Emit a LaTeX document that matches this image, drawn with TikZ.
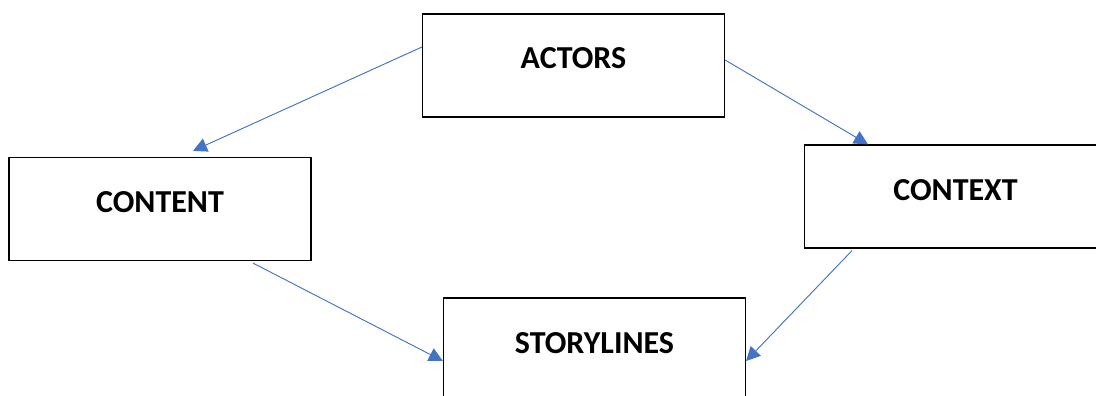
\documentclass[tikz,border=0pt]{standalone}
\usepackage{fontspec}
\setmainfont{Carlito}
\usetikzlibrary{arrows.meta}
\definecolor{linkblue}{HTML}{4472C4}
\tikzset{
	box/.style={draw, line width=1.2pt, minimum width=302pt, minimum height=103pt, inner sep=0pt,
		font=\fontsize{32}{38}\selectfont\bfseries, text height=21pt, text depth=14pt},
	link/.style={draw=linkblue, line width=0.9pt, -{Triangle[length=14pt,width=14pt]}, fill=linkblue}
}
\begin{document}
\begin{tikzpicture}[x=1pt, y=-1pt]
			\useasboundingbox (0,0) rectangle (1096,396);
			\clip (0,0) rectangle (1096,396);
			\node[box] (actors)  at (573.5, 65.5)  {ACTORS};
			\node[box] (content) at (160, 209)     {CONTENT};
			\node[box] (context) at (955.5, 196.5) {CONTEXT};
			\node[box] (story)   at (594.5, 349.5) {STORYLINES};
			
			\draw[link] ([yshift=18.5pt]actors.west) -- ([xshift=33pt,yshift=6pt]content.north);
			\draw[link] ([yshift=5.5pt]actors.east) -- ([xshift=-87.5pt]context.north);
			\draw[link] ([xshift=93pt,yshift=-2pt]content.south) -- ([yshift=-11.5pt]story.west);
			\draw[link] ([xshift=-103.5pt,yshift=-2pt]context.south) -- ([yshift=-11.5pt]story.east);
		\end{tikzpicture}
\end{document}
